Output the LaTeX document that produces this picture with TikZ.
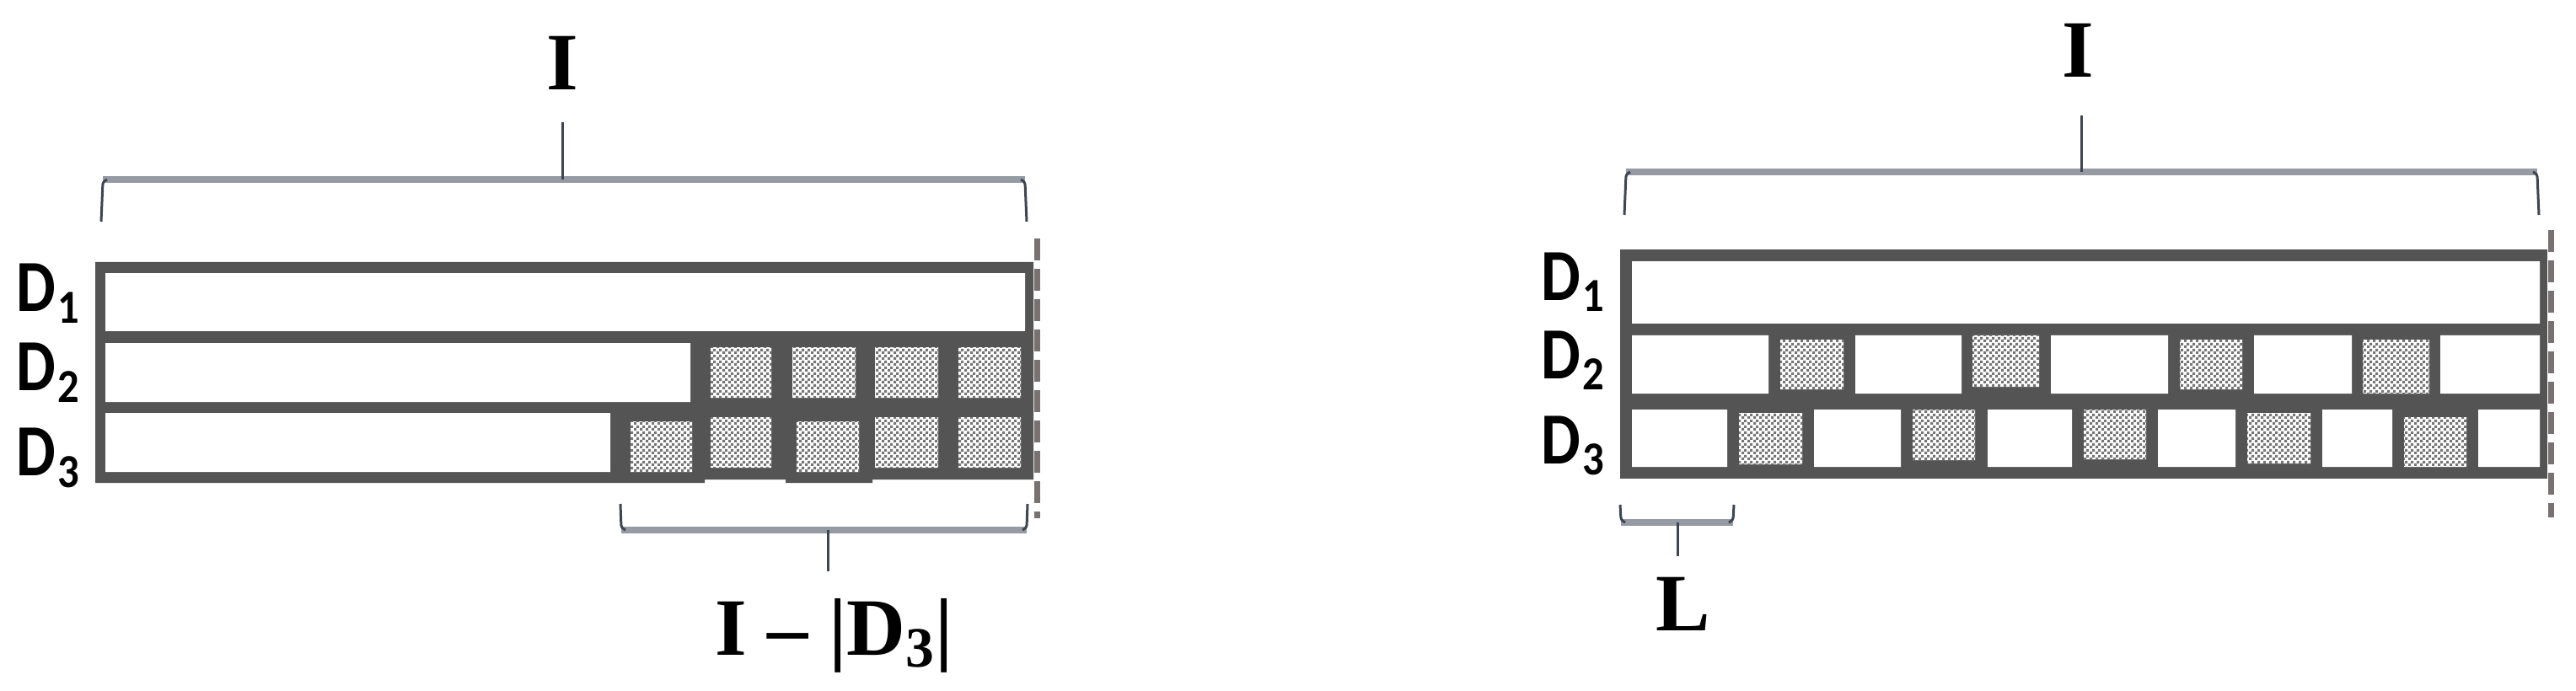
\documentclass[tikz,border=0pt]{standalone}
\usepackage{fontspec}
\setmainfont{Liberation Serif}
\newfontfamily\rowfont{Carlito}
\usetikzlibrary{patterns}

\definecolor{framegray}{RGB}{84,84,84}
\definecolor{checkgray}{RGB}{118,118,118}
\definecolor{bracegray}{RGB}{150,155,163}
\definecolor{bracedark}{RGB}{62,70,84}
\definecolor{cutgray}{RGB}{120,113,113}

% small checker for the filled slots
\pgfdeclarepatternformonly{finecheck}{\pgfpointorigin}{\pgfqpoint{2pt}{2pt}}{\pgfqpoint{2pt}{2pt}}{%
  \pgfpathrectangle{\pgfpointorigin}{\pgfqpoint{1pt}{1pt}}%
  \pgfpathrectangle{\pgfqpoint{1pt}{1pt}}{\pgfqpoint{1pt}{1pt}}%
  \pgfusepath{fill}}

\newcommand{\dname}[1]{\scalebox{0.85}[1]{D}\kern0.02cm\raisebox{-0.14cm}{\fontsize{16}{16}\selectfont\scalebox{0.9}[1]{#1}}}

\begin{document}
\begin{tikzpicture}[yscale=-1,
		frame/.style={fill=framegray},
		hatch/.style={preaction={fill=white}, pattern=finecheck, pattern color=checkgray},
		bracebar/.style={draw=bracegray, line width=0.08cm},
		braceend/.style={draw=bracedark, line width=0.03cm, rounded corners=0.03cm},
		cutline/.style={draw=cutgray, line width=0.07cm, dash pattern=on 0.26cm off 0.1cm},
		rowlab/.style={anchor=base west, inner sep=0pt, font=\rowfont\bfseries\fontsize{24.8}{26}\selectfont},
		sizelab/.style={anchor=base, inner sep=0pt, font=\bfseries\fontsize{27.5}{30}\selectfont}]
	\useasboundingbox (0,0) rectangle (30.56,8.2);
	
	% Left: frame and rows
	\path[frame] (1.13,3.11) rectangle (12.26,5.69)
		(1.13,5.69) rectangle (8.36,5.73) (9.32,5.69) rectangle (10.35,5.73);
	\fill[white] (1.25,3.24) rectangle (12.16,3.93)
		(1.25,4.07) rectangle (8.19,4.77)
		(1.25,4.90) rectangle (7.24,5.60);
	\path[hatch] (8.43,4.12) rectangle (9.15,4.72) (9.40,4.12) rectangle (10.15,4.72)
		(10.38,4.12) rectangle (11.13,4.72) (11.37,4.12) rectangle (12.11,4.72);
	\path[hatch] (7.48,5.00) rectangle (8.21,5.60) (8.43,4.95) rectangle (9.15,5.55)
		(9.45,5.00) rectangle (10.19,5.60) (10.38,4.95) rectangle (11.13,5.55)
		(11.37,4.95) rectangle (12.11,5.55);
	\draw[cutline] (12.30,2.83) -- (12.30,6.15);
	
	\node[rowlab] (ld1) at (0.19,3.70) {\dname{1}};
	\node[rowlab] (ld2) at (0.19,4.63) {\dname{2}};
	\node[rowlab] (ld3) at (0.19,5.64) {\dname{3}};
	
	% Left: braces
	\draw[bracebar] (1.22,2.13) -- (12.16,2.13);
	\draw[braceend] (1.20,2.63) -- (1.22,2.16) -- (1.27,2.13);
	\draw[braceend] (12.18,2.63) -- (12.16,2.16) -- (12.11,2.13);
	\draw[braceend] (6.67,2.13) -- (6.67,1.45);
	\node[sizelab] (lI) at (6.67,1.07) {I};
	
	\draw[bracebar] (7.37,6.29) -- (12.18,6.29);
	\draw[braceend] (7.36,5.98) -- (7.37,6.26) -- (7.42,6.29);
	\draw[braceend] (12.19,5.98) -- (12.18,6.26) -- (12.13,6.29);
	\draw[braceend] (9.82,6.29) -- (9.82,6.78);
	\node[sizelab] (ldiff) at (9.90,7.77) {I -- |D\textsubscript{3}|};
	
	% Right: frame and rows
	\path[frame] (19.22,2.96) rectangle (30.22,5.68);
	\fill[white] (19.36,3.10) rectangle (30.13,3.84)
		(19.36,3.98) rectangle (20.98,4.67) (22.01,3.98) rectangle (23.27,4.67)
		(24.33,3.98) rectangle (25.72,4.67) (26.74,3.98) rectangle (27.90,4.67)
		(28.95,3.98) rectangle (30.13,4.67)
		(19.36,4.86) rectangle (20.49,5.54) (21.52,4.86) rectangle (22.55,5.54)
		(23.58,4.86) rectangle (24.58,5.54) (25.60,4.86) rectangle (26.52,5.54)
		(27.55,4.86) rectangle (28.38,5.54) (29.40,4.86) rectangle (30.13,5.54);
	\path[hatch] (21.12,4.03) rectangle (21.87,4.62) (23.40,3.98) rectangle (24.19,4.59)
		(25.86,4.03) rectangle (26.60,4.62) (28.03,4.03) rectangle (28.82,4.67);
	\path[hatch] (20.63,4.90) rectangle (21.38,5.51) (22.69,4.86) rectangle (23.43,5.46)
		(24.72,4.86) rectangle (25.46,5.45) (26.66,4.90) rectangle (27.41,5.50)
		(28.52,4.95) rectangle (29.26,5.54);
	\draw[cutline] (30.26,2.73) -- (30.26,6.14);
	
	\node[rowlab] (rd1) at (18.28,3.56) {\dname{1}};
	\node[rowlab] (rd2) at (18.28,4.49) {\dname{2}};
	\node[rowlab] (rd3) at (18.28,5.50) {\dname{3}};
	
	% Right: braces
	\draw[bracebar] (19.29,2.04) -- (30.10,2.04);
	\draw[braceend] (19.27,2.55) -- (19.29,2.07) -- (19.34,2.04);
	\draw[braceend] (30.12,2.55) -- (30.10,2.07) -- (30.05,2.04);
	\draw[braceend] (24.69,2.04) -- (24.69,1.37);
	\node[sizelab] (rI) at (24.65,0.92) {I};
	
	\draw[bracebar] (19.23,6.20) -- (20.56,6.20);
	\draw[braceend] (19.22,5.99) -- (19.23,6.17) -- (19.28,6.20);
	\draw[braceend] (20.57,5.99) -- (20.56,6.17) -- (20.51,6.20);
	\draw[braceend] (19.90,6.20) -- (19.90,6.60);
	\node[sizelab] (rL) at (19.97,7.48) {L};
\end{tikzpicture}
\end{document}
